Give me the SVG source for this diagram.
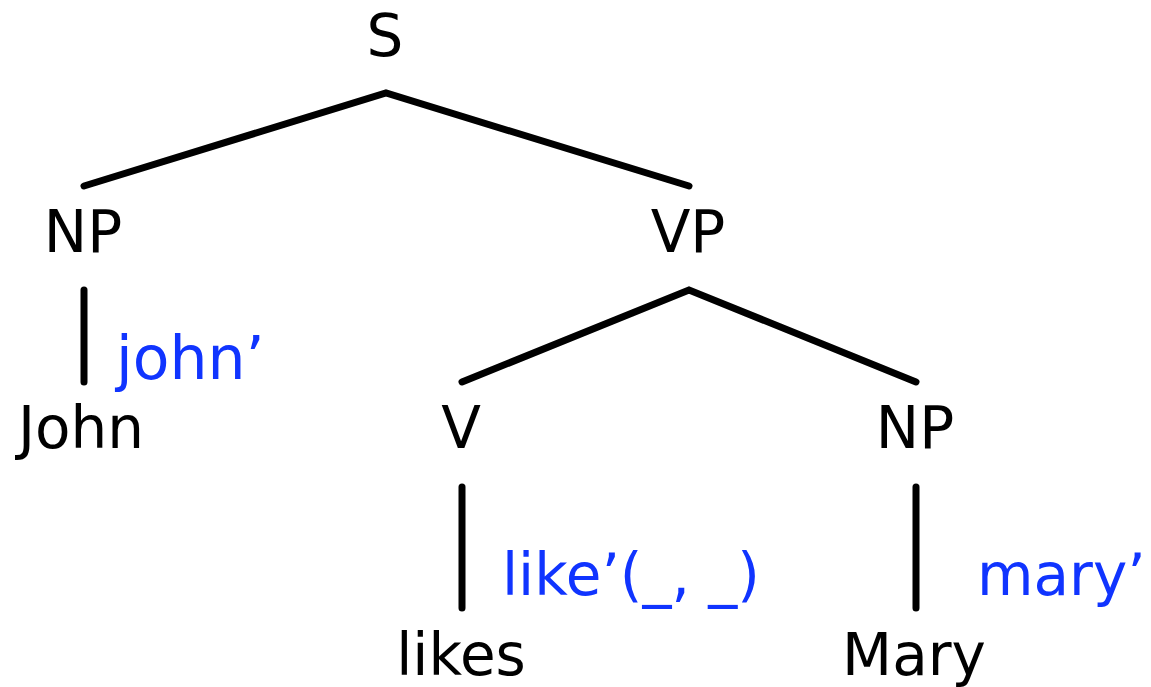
<svg xmlns="http://www.w3.org/2000/svg" width="1151" height="687" viewBox="0 0 1151 687">
<style>
.lbl{font-family:"DejaVu Sans",sans-serif;font-size:58px;fill:#000;text-anchor:middle}
.sem{font-family:"DejaVu Sans",sans-serif;font-size:58px;fill:#1034ff}
.edge{stroke:#000;stroke-width:7;stroke-linecap:round;fill:none}
</style>
<rect width="1151" height="687" fill="#fff"/>
<g id="connectors">
<path class="edge" d="M84,186 L386,93 L689,186"/>
<path class="edge" d="M462,382 L689,290 L916,382"/>
<line class="edge" x1="84" y1="290" x2="84" y2="382"/>
<line class="edge" x1="462" y1="487" x2="462" y2="608"/>
<line class="edge" x1="916" y1="487" x2="916" y2="608"/>
</g>
<g id="S"><text class="lbl" x="385" y="56">S</text></g>
<g id="NP1"><text class="lbl" x="83" y="252">NP</text></g>
<g id="VP"><text class="lbl" x="688" y="252">VP</text></g>
<g id="John"><text class="lbl" x="81" y="448">John</text></g>
<g id="V"><text class="lbl" x="461" y="448">V</text></g>
<g id="NP2"><text class="lbl" x="915" y="448">NP</text></g>
<g id="likes"><text class="lbl" x="461" y="675">likes</text></g>
<g id="Mary"><text class="lbl" x="914" y="675">Mary</text></g>
<g id="sem-john"><text class="sem" x="116" y="379" style="font-size:60px">john’</text></g>
<g id="sem-like"><text class="sem" x="502" y="595">like’(_, _)</text></g>
<g id="sem-mary"><text class="sem" x="977" y="595">mary’</text></g>
</svg>
